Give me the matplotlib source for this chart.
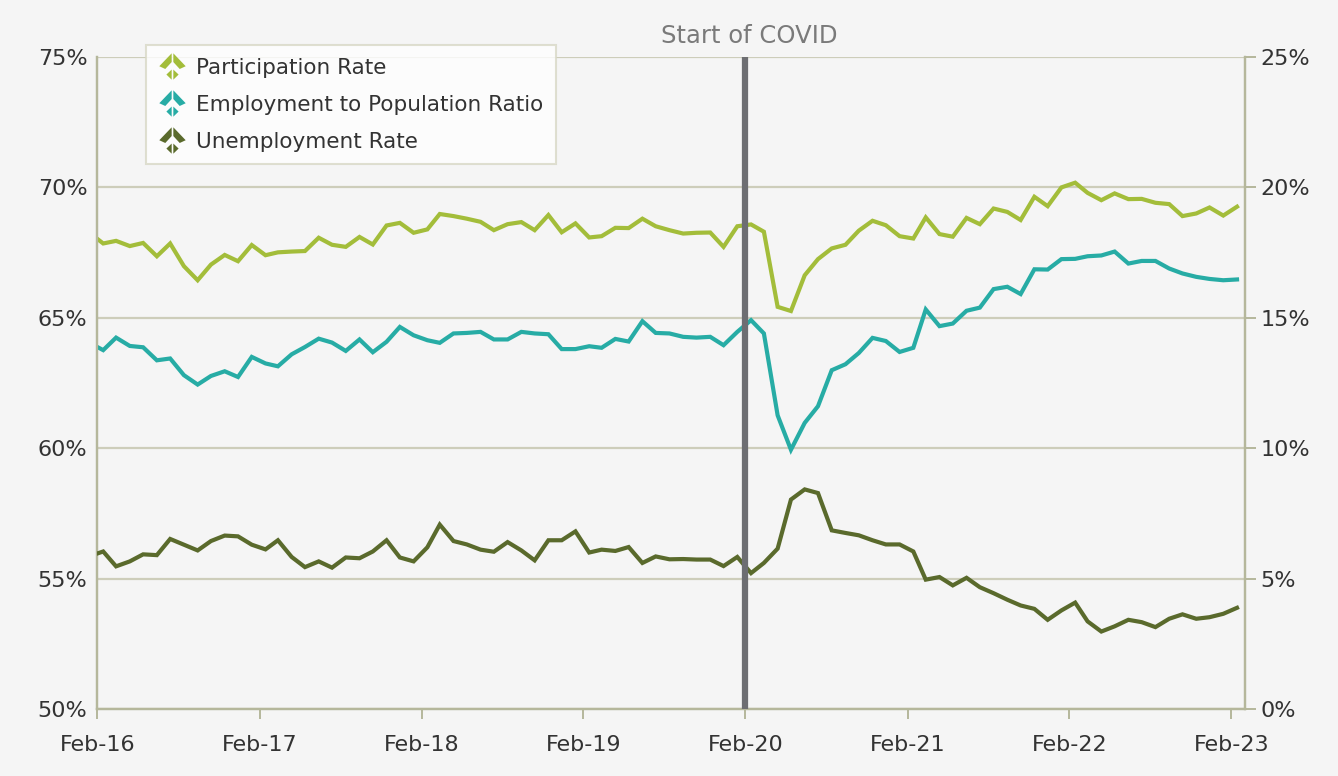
import numpy as np
import pandas as pd
import matplotlib
matplotlib.use("Agg")
import matplotlib.pyplot as plt
import matplotlib.dates as mdates
from matplotlib.path import Path
from matplotlib.lines import Line2D
from matplotlib.ticker import FuncFormatter

# monthly data, Jan-16 .. Feb-23 (first point falls just left of the plot)
months = pd.date_range("2016-01-01", periods=86, freq="MS") + pd.Timedelta(days=13)

participation = [
    68.26, 67.85, 67.95, 67.75, 67.87, 67.36, 67.85, 66.98, 66.44, 67.04, 67.41, 67.17,
    67.79, 67.40, 67.51, 67.54, 67.56, 68.07, 67.80, 67.72, 68.10, 67.81, 68.54, 68.64,
    68.26, 68.39, 68.98, 68.90, 68.80, 68.68, 68.36, 68.59, 68.67, 68.36, 68.94, 68.28,
    68.62, 68.08, 68.13, 68.45, 68.44, 68.80, 68.51, 68.36, 68.23, 68.26, 68.27, 67.72,
    68.51, 68.58, 68.30, 65.42, 65.26, 66.63, 67.25, 67.66, 67.80, 68.34, 68.72, 68.55,
    68.13, 68.04, 68.85, 68.21, 68.11, 68.83, 68.59, 69.19, 69.06, 68.75, 69.64, 69.28,
    70.00, 70.18, 69.79, 69.51, 69.77, 69.55, 69.56, 69.41, 69.36, 68.90, 69.00, 69.23,
    68.92, 69.26,
]
emp_pop = [
    64.04, 63.76, 64.24, 63.92, 63.87, 63.37, 63.44, 62.80, 62.44, 62.77, 62.95, 62.73,
    63.50, 63.25, 63.14, 63.60, 63.88, 64.20, 64.05, 63.73, 64.17, 63.68, 64.08, 64.65,
    64.33, 64.14, 64.04, 64.40, 64.42, 64.46, 64.17, 64.17, 64.46, 64.40, 64.37, 63.80,
    63.80, 63.91, 63.85, 64.19, 64.09, 64.87, 64.42, 64.40, 64.27, 64.24, 64.27, 63.95,
    64.46, 64.91, 64.40, 61.26, 59.94, 60.97, 61.61, 62.99, 63.22, 63.65, 64.23, 64.11,
    63.69, 63.85, 65.32, 64.68, 64.78, 65.27, 65.39, 66.10, 66.19, 65.91, 66.86, 66.85,
    67.25, 67.26, 67.36, 67.39, 67.54, 67.08, 67.18, 67.18, 66.89, 66.70, 66.57, 66.49,
    66.44, 66.47,
]
unemployment = [
    5.86, 6.04, 5.47, 5.66, 5.93, 5.90, 6.52, 6.30, 6.08, 6.44, 6.65, 6.62,
    6.30, 6.12, 6.47, 5.83, 5.44, 5.66, 5.42, 5.81, 5.78, 6.04, 6.47, 5.81,
    5.66, 6.20, 7.07, 6.44, 6.31, 6.11, 6.03, 6.40, 6.08, 5.70, 6.47, 6.47,
    6.81, 6.00, 6.11, 6.06, 6.21, 5.60, 5.85, 5.74, 5.75, 5.73, 5.73, 5.48,
    5.83, 5.21, 5.60, 6.15, 8.03, 8.42, 8.28, 6.85, 6.75, 6.66, 6.47, 6.31,
    6.31, 6.04, 4.96, 5.06, 4.74, 5.03, 4.67, 4.44, 4.19, 3.97, 3.84, 3.42,
    3.78, 4.08, 3.36, 2.97, 3.17, 3.42, 3.33, 3.14, 3.46, 3.63, 3.46, 3.52,
    3.65, 3.88,
]

labels = ["Participation Rate", "Employment to Population Ratio", "Unemployment Rate"]
colors = ["#A3BD3A", "#27ACA5", "#5A6A2C"]
covid_date = pd.Timestamp("2020-02-01")

bg = "#F5F5F5"
grid_c = "#CDCDBA"
spine_c = "#B5B79B"
text_c = "#333333"

plt.rcParams["font.family"] = ["DejaVu Sans"]

fig = plt.figure(figsize=(13.38, 7.76), dpi=100)
fig.patch.set_facecolor(bg)
ax = fig.add_axes([97 / 1338, 1 - 709 / 776, 1148 / 1338, 652 / 776])
ax.set_facecolor(bg)
ax2 = ax.twinx()
ax2.patch.set_visible(False)

ax.plot(months, participation, color=colors[0], lw=3, solid_joinstyle="miter", zorder=3)
ax.plot(months, emp_pop, color=colors[1], lw=3, solid_joinstyle="miter", zorder=3)
ax2.plot(months, unemployment, color=colors[2], lw=3, solid_joinstyle="miter", zorder=3)

# covid marker
ax2.axvline(covid_date, color="#6D6E72", lw=4.5, zorder=5)
ax2.text(covid_date + pd.Timedelta(days=8), 1.032, "Start of COVID", transform=ax2.get_xaxis_transform(),
         ha="center", va="center", fontsize=17.5, color="#7A7A7A")

ax.set_xlim(pd.Timestamp("2016-01-31"), pd.Timestamp("2023-03-04"))
ax.set_ylim(50, 75)
ax2.set_ylim(0, 25)
ax.set_yticks(np.arange(50, 76, 5))
ax2.set_yticks(np.arange(0, 26, 5))
pct = FuncFormatter(lambda v, p: f"{v:.0f}%")
ax.yaxis.set_major_formatter(pct)
ax2.yaxis.set_major_formatter(pct)

ax.xaxis.set_major_locator(mdates.MonthLocator(bymonth=2))
ax.xaxis.set_major_formatter(mdates.DateFormatter("%b-%y"))

ax.yaxis.grid(True, color=grid_c, lw=1.6, zorder=0)
ax.set_axisbelow(True)

for a in (ax, ax2):
    for s in a.spines.values():
        s.set_color(spine_c)
        s.set_linewidth(1.6)
    a.spines["top"].set_visible(False)

ax.tick_params(axis="x", direction="out", length=7, width=1.4, color=spine_c, pad=12,
               labelsize=16, labelcolor=text_c)
ax.tick_params(axis="y", length=0, pad=7, labelsize=16, labelcolor=text_c)
ax2.tick_params(axis="y", direction="out", length=8, width=1.4, color=spine_c, pad=3,
                labelsize=16, labelcolor=text_c)

# legend icon
icon_polys = [
    [(-0.95, 0.02), (-0.06, 0.95), (-0.06, 0.32), (-0.52, -0.18)],
    [(0.95, 0.02), (0.06, 0.95), (0.06, 0.32), (0.52, -0.18)],
    [(-0.06, -0.22), (-0.06, -0.95), (-0.44, -0.58)],
    [(0.06, -0.22), (0.06, -0.95), (0.44, -0.58)],
]
verts, codes = [], []
for poly in icon_polys:
    verts += poly + [poly[0]]
    codes += [Path.MOVETO] + [Path.LINETO] * (len(poly) - 1) + [Path.CLOSEPOLY]
icon = Path(verts, codes)

handles = [Line2D([], [], ls="none", marker=icon, ms=19, mew=0, color=c) for c in colors]
leg = fig.legend(handles, labels, loc="upper left", bbox_to_anchor=(146 / 1338, 1 - 45 / 776),
                 fontsize=15.5, frameon=True, fancybox=False, borderaxespad=0, borderpad=0.6,
                 labelspacing=0.78, handlelength=1.25, handletextpad=0.45)
leg.get_frame().set_facecolor("white")
leg.get_frame().set_edgecolor("#D8D8C6")
leg.get_frame().set_linewidth(1.5)
for t in leg.get_texts():
    t.set_color(text_c)

fig.savefig("out.png", dpi=100, facecolor=fig.get_facecolor())
